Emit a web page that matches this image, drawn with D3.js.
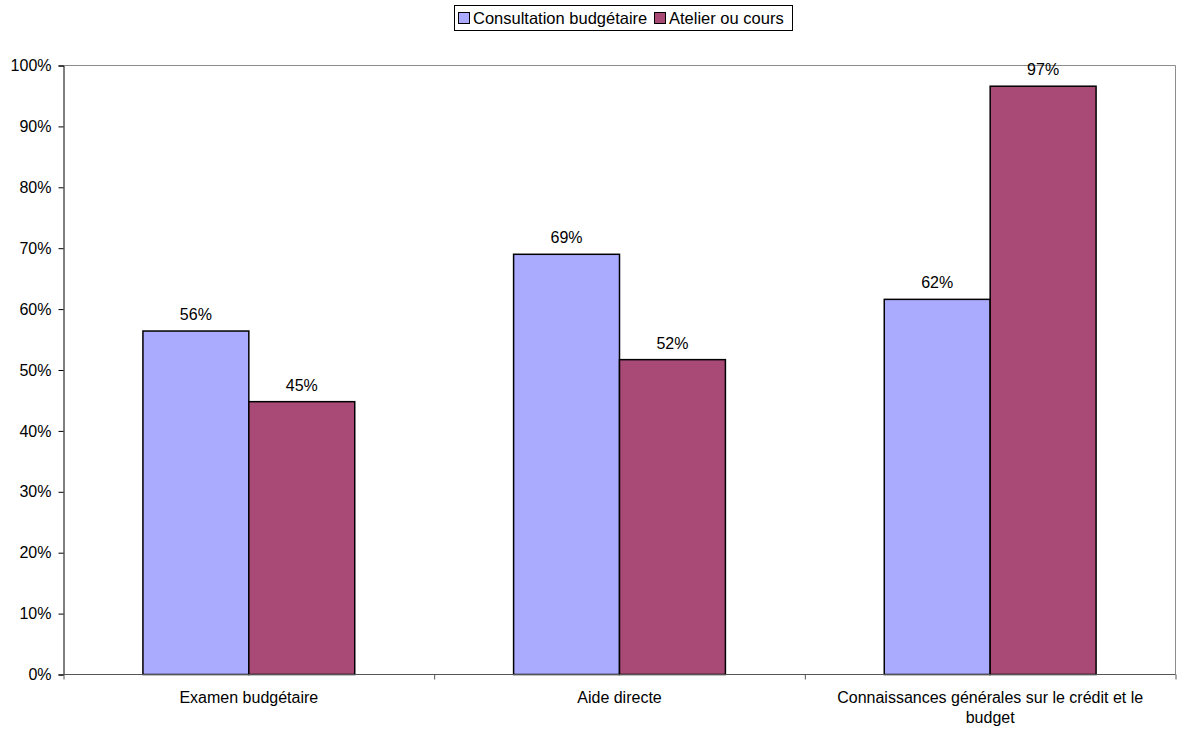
<!DOCTYPE html>
<html>
<head>
<meta charset="utf-8">
<script src="https://cdn.jsdelivr.net/npm/d3@7"></script>
<style>
  body { margin: 0; background: #fff; }
  text { font-family: "Liberation Sans", Arial, sans-serif; }
</style>
</head>
<body>
<svg id="chart" width="1177" height="729"></svg>
<script>
// data
var categories = ["Examen budgétaire", "Aide directe", "Connaissances générales sur le crédit et le budget"]
var series = ["Consultation budgétaire", "Atelier ou cours"]
var consultation = [56.4, 69.0, 61.6]
var atelier = [44.8, 51.7, 96.6]
var yTicks = [0, 10, 20, 30, 40, 50, 60, 70, 80, 90, 100]

var color = d3.scaleOrdinal()
  .domain(series)
  .range(["#aaaaff", "#a94a76"])

var svg = d3.select("#chart")
var margin = {left: 63.5, right: 1175.5, top: 65.5, bottom: 674.5}

var x = d3.scaleBand()
  .domain(categories)
  .range([margin.left, margin.right])
  .padding(0)

var inner = d3.scaleBand()
  .domain(series)
  .range([0, x.bandwidth()])
  .paddingOuter(0.375 * 2)
  .paddingInner(0)

var y = d3.scaleLinear()
  .domain([0, 100])
  .range([margin.bottom, margin.top])

// plot frame (top + right gray)
svg.append("path")
  .attr("d", "M" + margin.left + "," + margin.top + "H" + margin.right + "V" + margin.bottom)
  .attr("fill", "none")
  .attr("stroke", "#8c8c8c")
  .attr("stroke-width", 1)

var rows = categories.map(function(c, i) {
  return [{cat: c, s: series[0], v: consultation[i]}, {cat: c, s: series[1], v: atelier[i]}]
})
var flat = [].concat.apply([], rows)

// bars
svg.selectAll("rect.bar")
  .data(flat)
  .enter()
  .append("rect")
    .attr("class", "bar")
    .attr("x", function(d){ return x(d.cat) + inner(d.s) })
    .attr("y", function(d){ return y(d.v) })
    .attr("width", inner.bandwidth())
    .attr("height", function(d){ return y(0) - y(d.v) })
    .style("fill", function(d){ return color(d.s) })
    .style("stroke", "#000")
    .style("stroke-width", 1.5)

// value labels
svg.selectAll("text.val")
  .data(flat)
  .enter()
  .append("text")
    .attr("class", "val")
    .attr("x", function(d){ return x(d.cat) + inner(d.s) + inner.bandwidth() / 2 })
    .attr("y", function(d){ return y(d.v) - 11 })
    .attr("text-anchor", "middle")
    .style("font-size", "16px")
    .text(function(d){ return Math.round(d.v) + "%" })

// y axis
var yAxis = d3.axisLeft(y)
  .tickValues(yTicks)
  .tickSize(5)
  .tickPadding(7)
  .tickFormat(function(d){ return d + "%" })
var gy = svg.append("g")
  .attr("transform", "translate(" + margin.left + ",0)")
  .call(yAxis)
gy.select(".domain").attr("stroke", "#000")
gy.selectAll("text").style("font-size", "16px").attr("fill", "#000").style("font-family", '"Liberation Sans", Arial, sans-serif')

// x axis (ticks at band boundaries)
var xb = d3.scaleLinear().domain([0, categories.length]).range([margin.left, margin.right])
var gx = svg.append("g")
  .attr("transform", "translate(0," + margin.bottom + ")")
  .call(d3.axisBottom(xb).tickValues(d3.range(categories.length + 1)).tickSize(5).tickFormat(""))
gx.select(".domain").attr("stroke", "#555").attr("d", "M" + margin.left + ",0H" + margin.right)
gx.selectAll(".tick line").attr("stroke", "#555")

// category labels (wrap long ones)
function wrapLines(t) {
  if (t.length > 40) {
    var idx = t.lastIndexOf(" ")
    return [t.slice(0, idx), t.slice(idx + 1)]
  }
  return [t]
}
categories.forEach(function(c) {
  var lines = wrapLines(c)
  var t = svg.append("text")
    .attr("x", x(c) + x.bandwidth() / 2)
    .attr("y", margin.bottom + 28)
    .attr("text-anchor", "middle")
    .style("font-size", "16px")
  lines.forEach(function(l, i) {
    t.append("tspan")
      .attr("x", x(c) + x.bandwidth() / 2)
      .attr("dy", i === 0 ? 0 : 20)
      .text(l)
  })
})

// legend
var legend = svg.append("g")
legend.append("rect")
  .attr("x", 454.5).attr("y", 5.5)
  .attr("width", 338).attr("height", 25)
  .style("fill", "#fff").style("stroke", "#000")

var legX = [458, 654]
var size = 11
legend.selectAll("mydots")
  .data(series)
  .enter()
  .append("rect")
    .attr("x", function(d,i){ return legX[i] + 0.5 })
    .attr("y", 12.5)
    .attr("width", size)
    .attr("height", size)
    .style("fill", function(d){ return color(d) })
    .style("stroke", "#000")

legend.selectAll("mylabels")
  .data(series)
  .enter()
  .append("text")
    .attr("x", function(d,i){ return legX[i] + size + 4 })
    .attr("y", 24)
    .style("font-size", "16.5px")
    .text(function(d){ return d })
</script>
</body>
</html>
